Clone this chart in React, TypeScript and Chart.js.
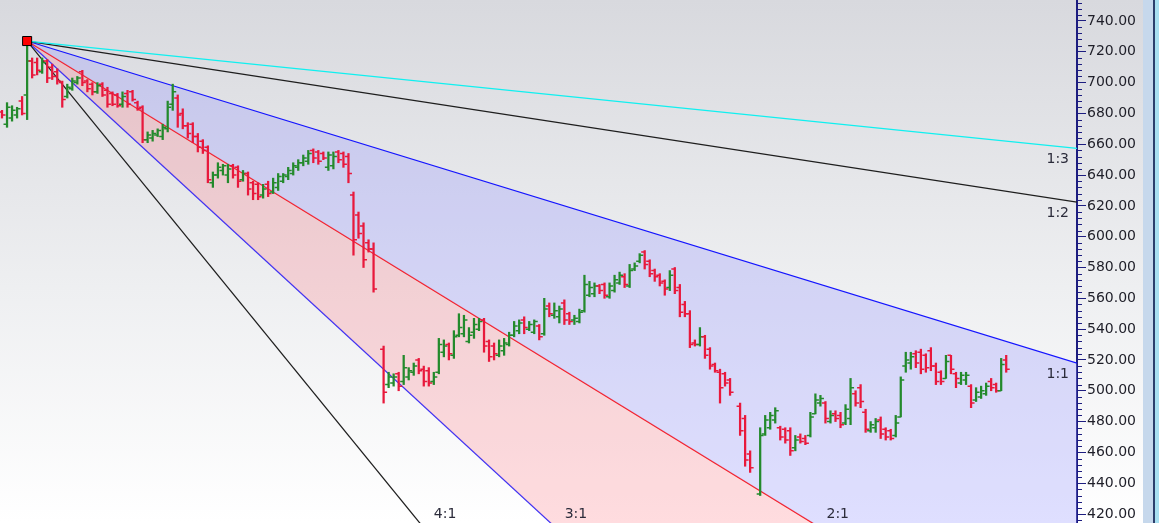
import React, { useEffect, useRef } from "react";
import { Chart, registerables } from "chart.js";

Chart.register(...registerables);

// ---------- data ----------
const tickValues = [420, 440, 460, 480, 500, 520, 540, 560, 580, 600, 620, 640, 660, 680, 700, 720, 740];

const opens = [
  681, 673, 677, 679, 688, 692, 714, 713, 707, 714, 710, 707, 700, 691, 696, 700, 707, 701, 699, 694,
  699, 695, 693, 692, 686, 693, 694, 687, 684, 663, 664, 666, 665, 670, 686, 690, 680, 672, 673, 665,
  662, 658, 635, 640, 643, 640, 646, 645, 637, 641, 635, 634, 627, 634, 629, 632, 636, 639, 641, 645,
  648, 649, 656, 655, 654, 645, 646, 655, 654, 652, 627, 614, 607, 596, 592, null, 527, 504, 505, 511,
  506, 509, 512, 520, 514, 513, 506, 512, 525, 530, 523, 536, 537, 532, 538, 540, 546, 532, 529, 523,
  526, 530, 536, 539, 546, 540, 538, 542, 537, 555, 549, 548, 557, 550, 546, 545, 552, 562, 563, 568,
  569, 561, 565, 570, 574, 568, 579, 584, 590, 584, 578, 575, 571, 567, 579, 567, 556, 550, 531, 530,
  535, 527, 517, 512, 511, 507, null, 490, 482, 459, null, 433, 472, 476, 481, 476, 475, 474, 463, 470,
  469, 471, 485, 492, 492, 480, 485, 484, 479, 482, 498, 502, 486, 474, 476, 481, 475, 474, 471, 483,
  516, 518, 524, 525, 523, 526, 516, 512, 508, 523, 511, 505, 507, 503, 494, 496, 498, 506, 504, 500,
  520,
];
const highs = [
  682, 687, 685, 684, 691, 727, 716, 716, 716, 715, 712, 709, 701, 699, 703, 704, 708, 702, 700, 700,
  700, 697, 694, 693, 694, 695, 695, 688, 685, 668, 669, 670, 673, 688, 699, 692, 683, 674, 674, 667,
  663, 659, 642, 648, 647, 647, 647, 646, 643, 642, 636, 635, 634, 636, 638, 641, 641, 645, 648, 650,
  653, 656, 657, 656, 655, 655, 655, 656, 655, 654, 629, 616, 609, 598, 596, null, 529, 512, 511, 512,
  523, 515, 518, 521, 516, 515, 512, 534, 533, 531, 539, 550, 549, 541, 547, 547, 547, 533, 531, 533,
  534, 538, 545, 546, 548, 545, 546, 543, 560, 557, 557, 555, 559, 551, 549, 553, 575, 571, 570, 569,
  570, 570, 575, 577, 576, 582, 583, 589, 591, 585, 579, 576, 572, 578, 580, 569, 558, 552, 533, 541,
  536, 528, 518, 514, 512, 508, null, 492, 484, 461, null, 476, 484, 486, 489, 477, 476, 476, 471, 472,
  471, 486, 498, 497, 493, 487, 487, 486, 491, 508, 500, 504, 488, 480, 482, 483, 476, 475, 484, 509,
  525, 525, 526, 527, 524, 528, 518, 513, 523, 523, 512, 512, 512, 504, 502, 503, 505, 508, 505, 521,
  523,
];
const lows = [
  677, 671, 675, 677, 679, 676, 703, 705, 706, 700, 702, 699, 684, 690, 695, 699, 698, 694, 692, 693,
  691, 684, 685, 684, 684, 684, 688, 682, 661, 661, 662, 665, 663, 668, 682, 671, 670, 664, 661, 655,
  654, 635, 632, 638, 640, 635, 638, 632, 636, 627, 624, 624, 625, 626, 628, 630, 635, 637, 640, 643,
  646, 647, 648, 647, 650, 643, 644, 648, 645, 635, 588, 599, 580, 590, 564, null, 492, 502, 503, 500,
  504, 507, 510, 511, 503, 503, 504, 511, 522, 520, 521, 535, 535, 531, 534, 539, 525, 519, 520, 522,
  523, 529, 535, 537, 537, 539, 537, 533, 536, 548, 547, 544, 543, 543, 543, 544, 551, 561, 561, 563,
  560, 560, 564, 569, 567, 567, 578, 583, 579, 574, 571, 568, 562, 565, 563, 548, 548, 528, 529, 529,
  521, 514, 512, 492, 503, 497, null, 471, 451, 447, null, 432, 471, 475, 479, 468, 466, 458, 461, 466,
  465, 470, 485, 490, 479, 479, 480, 476, 478, 478, 490, 489, 473, 473, 473, 469, 468, 468, 470, 483,
  512, 514, 515, 511, 512, 513, 504, 504, 508, 511, 502, 504, 504, 489, 493, 495, 497, 500, 499, 500,
  512,
];
const closes = [
  679, 684, 682, 683, 680, 714, 705, 708, 713, 703, 704, 701, 689, 697, 701, 703, 700, 696, 694, 698,
  692, 686, 686, 685, 691, 686, 689, 683, 663, 666, 667, 669, 671, 684, 694, 679, 672, 667, 665, 658,
  656, 637, 640, 645, 646, 644, 640, 636, 641, 631, 628, 626, 631, 628, 635, 639, 640, 643, 646, 648,
  651, 654, 651, 649, 651, 653, 652, 650, 647, 641, 598, 602, 585, 592, 566, null, 499, 509, 509, 503,
  515, 513, 516, 513, 506, 505, 509, 530, 529, 524, 535, 541, 546, 536, 543, 545, 529, 522, 524, 529,
  531, 536, 542, 544, 541, 543, 545, 535, 553, 550, 552, 553, 546, 545, 547, 551, 569, 567, 568, 565,
  562, 568, 572, 575, 569, 578, 581, 588, 582, 576, 574, 570, 566, 575, 565, 551, 550, 530, 530, 535,
  523, 516, 513, 502, 505, 499, null, 474, 455, 450, null, 471, 481, 484, 487, 470, 468, 461, 468, 467,
  466, 483, 494, 495, 482, 484, 482, 478, 488, 502, 492, 493, 475, 478, 480, 472, 470, 469, 479, 507,
  520, 522, 518, 514, 515, 516, 506, 506, 519, 514, 508, 510, 510, 492, 499, 500, 503, 502, 500, 517,
  514,
];

const gannOriginIndex = 5;
const gannOriginPrice = 727;
const gannRatios = [1 / 3, 1 / 2, 1, 2, 3, 4];
const gannLabels = ["1:3", "1:2", "1:1", "2:1", "3:1", "4:1"];

const X_MIN = -0.4;
const X_MAX = 214.1;
const Y_MIN = 414.16;
const Y_MAX = 753.63;

// ---------- styles ----------
const UP = "#238a2c";
const DOWN = "#e8193c";
const gannColors = ["#10f0f0", "#1e1e1e", "#1414ff", "#ff1414", "#2a2aff", "#1e1e1e"];
const gannFills = [false, false, "rgba(150,150,255,0.30)", "rgba(255,120,130,0.26)", false, false];
const LABEL_FONT = '14px "DejaVu Sans"';
const AXIS_COLOR = "#1d1d80";
const OHLC_INDEX = 7;

const backgroundPlugin = {
  id: "bgGradient",
  beforeDraw(chart: any) {
    const { ctx, width, height } = chart;
    const g = ctx.createLinearGradient(0, 0, 0, height);
    g.addColorStop(0, "#d8d9de");
    g.addColorStop(0.55, "#eeeff1");
    g.addColorStop(1, "#ffffff");
    ctx.save();
    ctx.fillStyle = g;
    ctx.fillRect(0, 0, width, height);
    const r = chart.scales.y.right;
    ctx.fillStyle = "#c6d8ec";
    ctx.fillRect(r, 0, width - r, height);
    ctx.fillStyle = "#2c3f6c";
    ctx.fillRect(r + 10, 0, 2, height);
    ctx.fillStyle = "#a9dff0";
    ctx.fillRect(r + 12, 0, width - r - 12, height);
    ctx.restore();
  },
};

const axisPlugin = {
  id: "axisDecor",
  afterDraw(chart: any) {
    const { ctx } = chart;
    const y = chart.scales.y;
    const x0 = y.left;
    ctx.save();
    ctx.strokeStyle = AXIS_COLOR;
    ctx.lineWidth = 1;
    ctx.beginPath();
    for (let v = Math.ceil(Y_MIN / 4) * 4; v <= Y_MAX; v += 4) {
      if (v % 20 === 0) continue;
      const py = Math.round(y.getPixelForValue(v)) + 0.5;
      ctx.moveTo(x0, py);
      ctx.lineTo(x0 + 5, py);
    }
    ctx.stroke();
    ctx.font = LABEL_FONT;
    ctx.fillStyle = "#1e1e28";
    ctx.textAlign = "left";
    ctx.textBaseline = "middle";
    tickValues.forEach((v) => {
      ctx.fillText(v.toFixed(2), x0 + 10, y.getPixelForValue(v));
    });
    ctx.restore();
  },
};

const ohlcTicksPlugin = {
  id: "ohlcTicks",
  afterDatasetDraw(chart: any, args: any) {
    if (args.index !== OHLC_INDEX) return;
    const { ctx, chartArea } = chart;
    const y = chart.scales.y;
    const ds = chart.data.datasets[OHLC_INDEX];
    ctx.save();
    ctx.beginPath();
    ctx.rect(chartArea.left, chartArea.top, chartArea.right - chartArea.left, chartArea.bottom - chartArea.top);
    ctx.clip();
    ctx.lineWidth = 1.5;
    args.meta.data.forEach((el: any, j: number) => {
      const d = ds.data[j];
      ctx.strokeStyle = d.c >= d.o ? UP : DOWN;
      const yo = y.getPixelForValue(d.o);
      const yc = y.getPixelForValue(d.c);
      ctx.beginPath();
      ctx.moveTo(el.x - 3.5, yo);
      ctx.lineTo(el.x, yo);
      ctx.moveTo(el.x, yc);
      ctx.lineTo(el.x + 3.5, yc);
      ctx.stroke();
    });
    ctx.restore();
  },
};

const gannLabelPlugin = {
  id: "gannLabels",
  afterDatasetsDraw(chart: any) {
    const { ctx, chartArea } = chart;
    const xs = chart.scales.x;
    const ys = chart.scales.y;
    ctx.save();
    ctx.font = LABEL_FONT;
    ctx.fillStyle = "#2b2b3a";
    ctx.textBaseline = "middle";
    gannRatios.forEach((r, k) => {
      const endPrice = gannOriginPrice - r * (X_MAX - gannOriginIndex);
      if (endPrice >= Y_MIN) {
        ctx.textAlign = "right";
        ctx.fillText(gannLabels[k], chartArea.right - 8, ys.getPixelForValue(endPrice) + 11);
      } else {
        const exitIdx = gannOriginIndex + (gannOriginPrice - Y_MIN) / r;
        ctx.textAlign = "left";
        ctx.fillText(gannLabels[k], xs.getPixelForValue(exitIdx) + 14, chartArea.bottom - 9);
      }
    });
    ctx.restore();
  },
};

export default function App() {
  const canvasRef = useRef<HTMLCanvasElement | null>(null);

  useEffect(() => {
    document.body.style.margin = "0";
    const canvas = canvasRef.current;
    if (!canvas) return;

    const ohlc: any[] = [];
    const colors: string[] = [];
    opens.forEach((o, i) => {
      if (o === null || highs[i] === null || lows[i] === null || closes[i] === null) return;
      ohlc.push({ x: i, y: [lows[i], highs[i]], o, c: closes[i] });
      colors.push((closes[i] as number) >= o ? UP : DOWN);
    });

    const gannDatasets = gannRatios.map((r, k) => ({
      type: "line" as const,
      label: gannLabels[k],
      data: [
        { x: gannOriginIndex, y: gannOriginPrice },
        { x: X_MAX, y: gannOriginPrice - r * (X_MAX - gannOriginIndex) },
      ],
      borderColor: gannColors[k],
      borderWidth: 1.25,
      pointRadius: 0,
      fill: gannFills[k] ? "+1" : false,
      backgroundColor: gannFills[k] || "transparent",
      order: 2,
    }));

    const chart = new Chart(canvas, {
      type: "bar",
      data: {
        datasets: [
          ...gannDatasets,
          {
            type: "line" as const,
            label: "origin",
            data: [{ x: gannOriginIndex, y: gannOriginPrice }],
            showLine: false,
            pointStyle: "rect",
            pointRadius: 6.4,
            backgroundColor: "#ff0000",
            borderColor: "#000000",
            borderWidth: 1,
            clip: false as any,
            order: 0,
          },
          {
            type: "bar" as const,
            label: "OHLC",
            data: ohlc,
            backgroundColor: colors,
            borderWidth: 0,
            barThickness: 1.6,
            grouped: false,
            order: 1,
          } as any,
        ],
      },
      options: {
        animation: false,
        responsive: false,
        events: [],
        layout: { autoPadding: false, padding: { left: 0, top: 0, bottom: 0, right: 16 } },
        plugins: { legend: { display: false }, tooltip: { enabled: false } },
        scales: {
          x: {
            type: "linear",
            min: X_MIN,
            max: X_MAX,
            display: false,
            offset: false,
            grid: { offset: false },
          },
          y: {
            type: "linear",
            position: "right",
            min: Y_MIN,
            max: Y_MAX,
            afterBuildTicks: (s: any) => {
              s.ticks = tickValues.map((v) => ({ value: v }));
            },
            afterFit: (s: any) => {
              s.width = 66;
              s.paddingTop = 0;
              s.paddingBottom = 0;
            },
            grid: { drawOnChartArea: false, drawTicks: true, tickLength: 9, color: AXIS_COLOR, lineWidth: 1 },
            border: { display: true, color: AXIS_COLOR, width: 2 },
            ticks: { display: false },
          },
        },
      } as any,
      plugins: [backgroundPlugin, axisPlugin, ohlcTicksPlugin, gannLabelPlugin],
    });

    return () => chart.destroy();
  }, []);

  return (
    <div style={{ width: 1159, height: 523, position: "relative" }}>
      <canvas ref={canvasRef} width={1159} height={523} style={{ display: "block" }} />
    </div>
  );
}
